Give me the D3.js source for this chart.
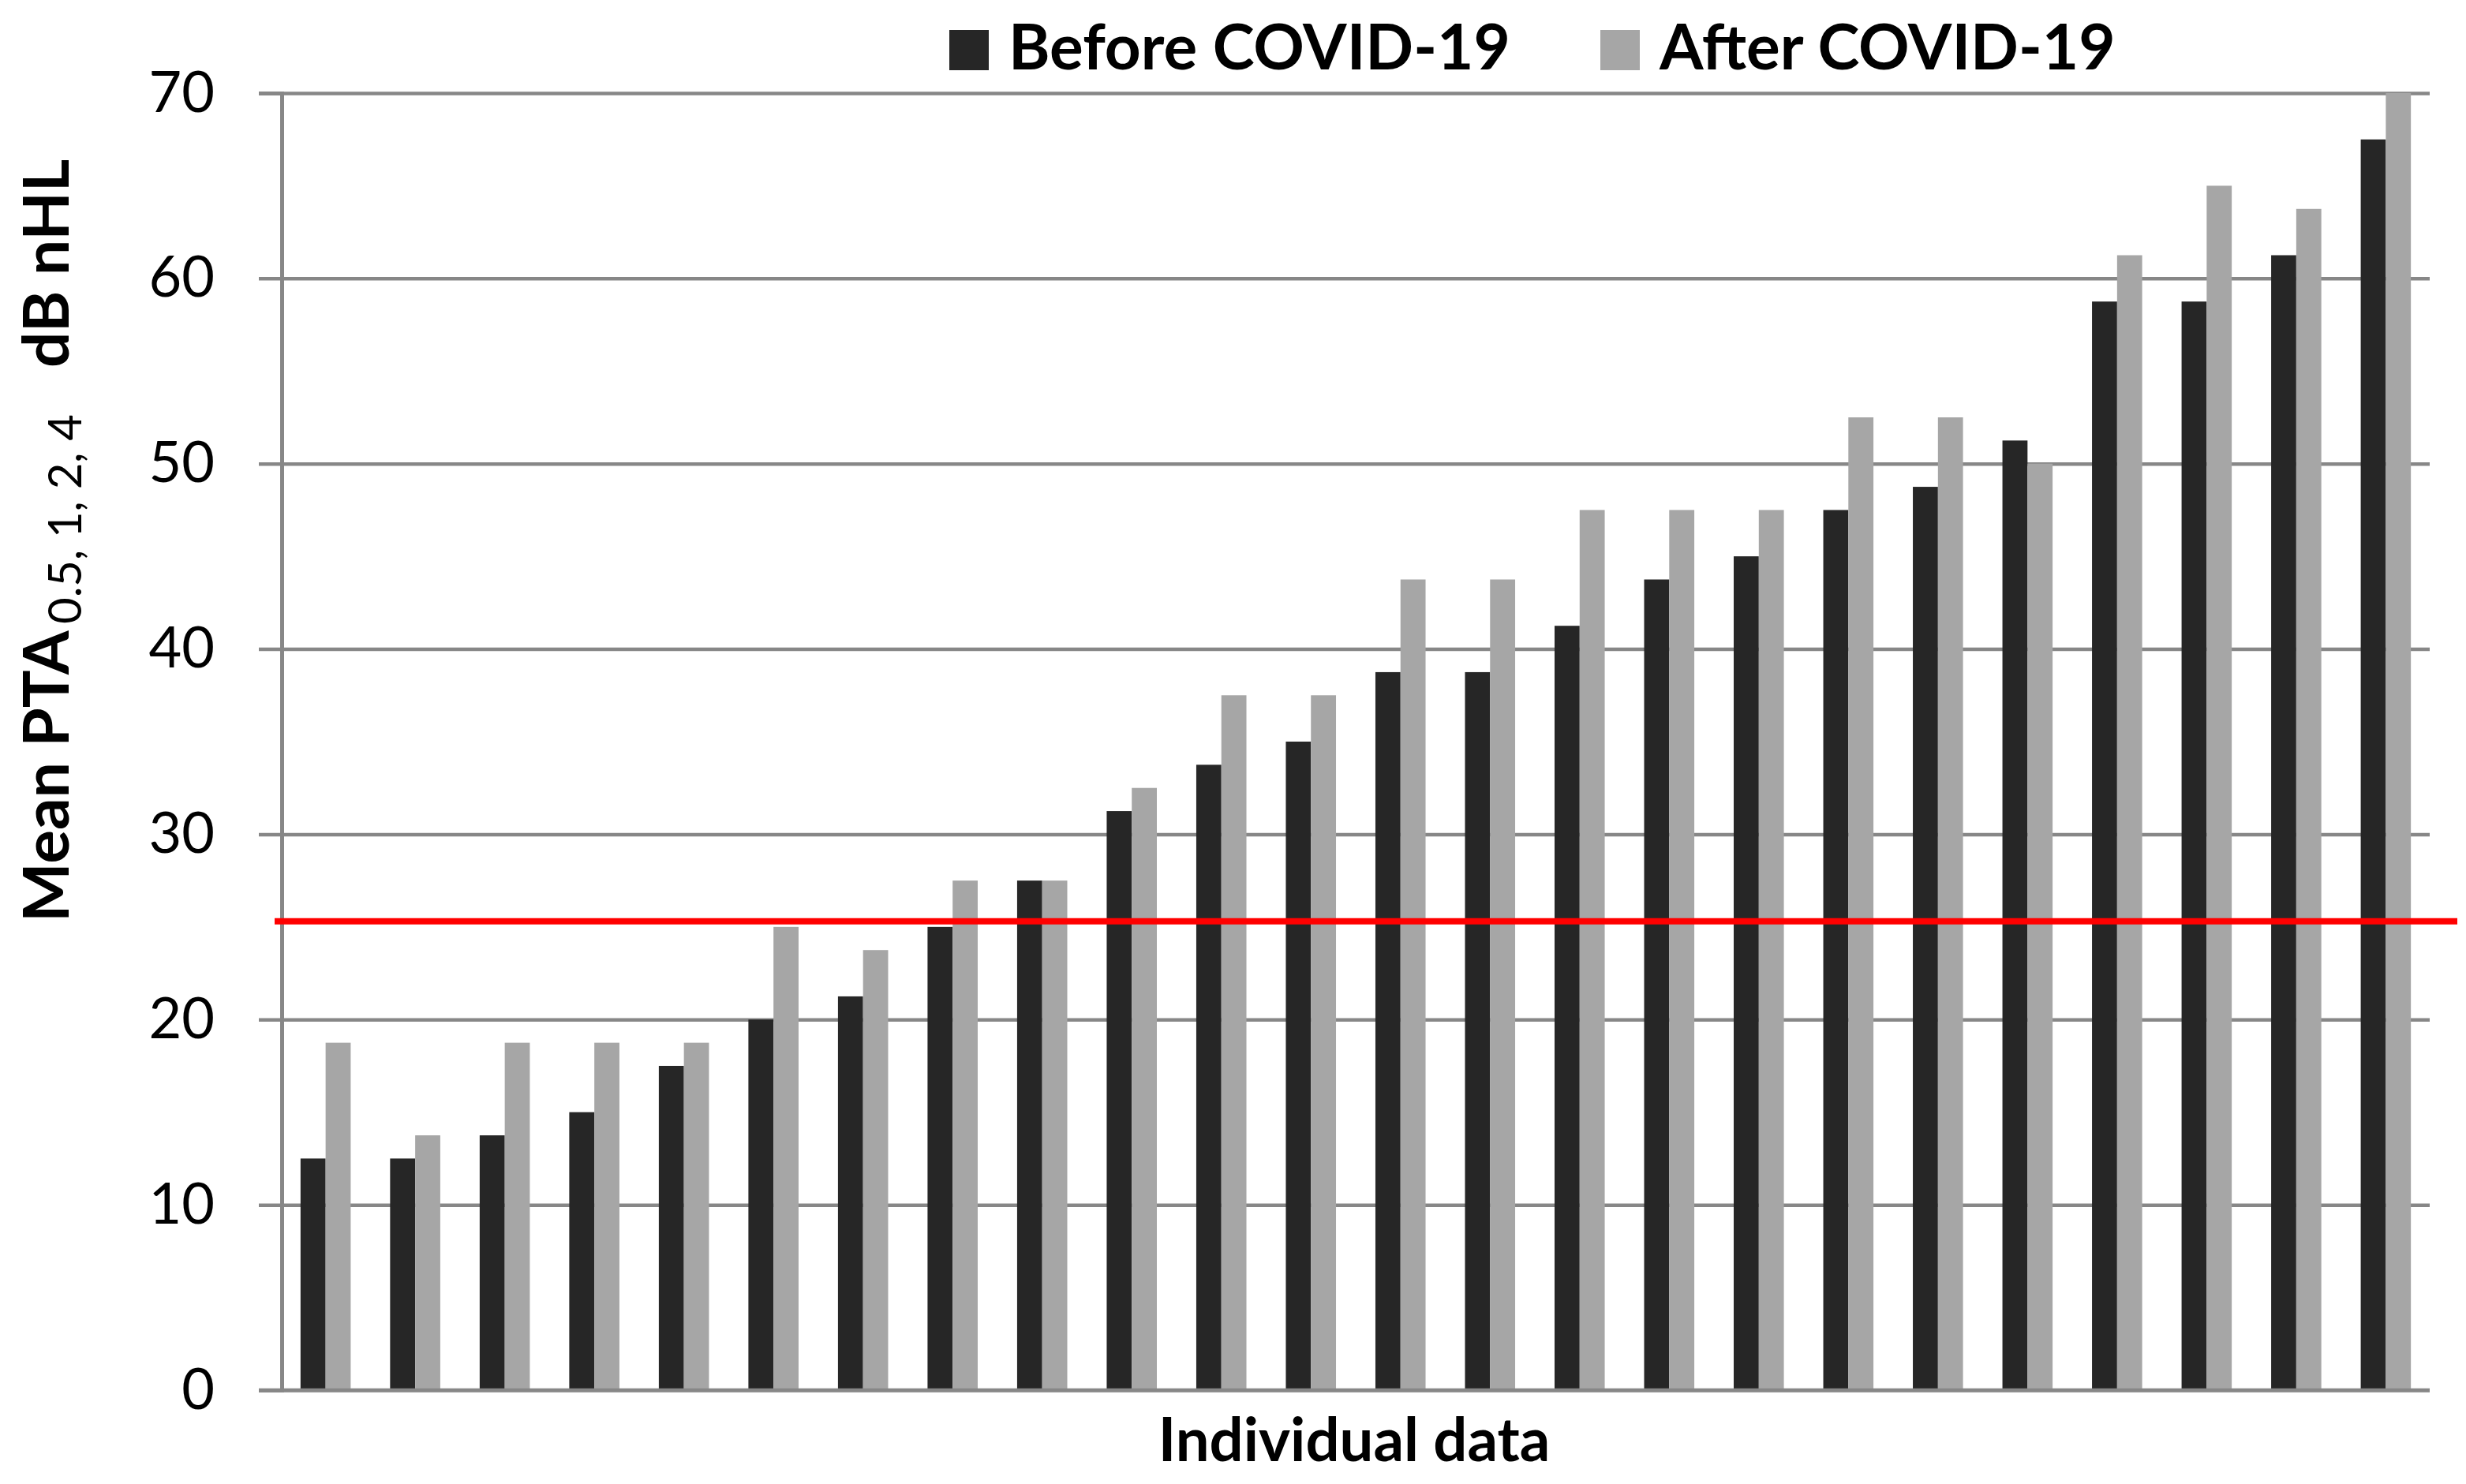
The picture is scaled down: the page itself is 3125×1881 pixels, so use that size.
<!DOCTYPE html>
<html>
<head>
<meta charset="utf-8">
<script src="https://cdn.jsdelivr.net/npm/d3@7"></script>
<style>
  html, body { margin: 0; padding: 0; background: #ffffff; }
  svg { display: block; }
</style>
</head>
<body>
<script>
// ---- data ----
const participants = d3.range(1, 25).map(String);
const beforeCovid = [12.5, 12.5, 13.75, 15, 17.5, 20, 21.25, 25, 27.5, 31.25, 33.75, 35,
                     38.75, 38.75, 41.25, 43.75, 45, 47.5, 48.75, 51.25, 58.75, 58.75, 61.25, 67.5];
const afterCovid  = [18.75, 13.75, 18.75, 18.75, 18.75, 25, 23.75, 27.5, 27.5, 32.5, 37.5, 37.5,
                     43.75, 43.75, 47.5, 47.5, 47.5, 52.5, 52.5, 50, 61.25, 65, 63.75, 70];
const seriesNames = ["Before COVID-19", "After COVID-19"];
const yTicks = [0, 10, 20, 30, 40, 50, 60, 70];
const threshold = 25.3;

// ---- layout ----
const W = 3125, H = 1881;
const plotL = 357, plotR = 3079, plotT = 118, plotB = 1762;
const colors = { "Before COVID-19": "#262626", "After COVID-19": "#a6a6a6" };
const gridColor = "#878787";

const svg = d3.select("body").append("svg").attr("width", W).attr("height", H);

const x = d3.scaleBand().domain(participants).range([plotL, plotR]).paddingInner(0.44).paddingOuter(0.21);
const xs = d3.scaleBand().domain(seriesNames).range([0, x.bandwidth()]);
const y = d3.scaleLinear().domain([0, 70]).range([plotB, plotT]);

// gridlines (extending left as tick stubs)
const grid = svg.append("g").attr("transform", `translate(${plotR},0)`)
  .call(d3.axisLeft(y).tickValues(yTicks).tickSize(plotR - plotL + 29).tickFormat(""));
grid.select(".domain").remove();
grid.selectAll("line").attr("stroke", gridColor).attr("stroke-width", 4.5);

// bars
const rows = participants.map((p, i) => ({ p, vals: [
  { s: seriesNames[0], v: beforeCovid[i] },
  { s: seriesNames[1], v: afterCovid[i] } ] }));

svg.append("g").selectAll("g").data(rows).join("g")
  .attr("transform", d => `translate(${x(d.p)},0)`)
  .selectAll("rect").data(d => d.vals).join("rect")
  .attr("x", d => xs(d.s))
  .attr("width", xs.bandwidth())
  .attr("y", d => y(d.v))
  .attr("height", d => y(0) - y(d.v))
  .attr("fill", d => colors[d.s]);

// y axis (vertical line + labels)
const yAxis = svg.append("g").attr("transform", `translate(${plotL},0)`)
  .call(d3.axisLeft(y).tickValues(yTicks).tickSize(29).tickPadding(56));
yAxis.select(".domain").attr("stroke", gridColor).attr("stroke-width", 5);
yAxis.selectAll(".tick line").remove();
yAxis.selectAll("text").attr("font-family", "Lato").attr("font-size", 72).attr("fill", "#000");

// baseline at 0 over bars
svg.append("line").attr("x1", plotL - 29).attr("x2", plotR)
  .attr("y1", y(0)).attr("y2", y(0)).attr("stroke", gridColor).attr("stroke-width", 4.5);

// threshold red line
svg.append("line").attr("x1", 348).attr("x2", 3114)
  .attr("y1", y(threshold)).attr("y2", y(threshold))
  .attr("stroke", "#ff0000").attr("stroke-width", 8);

// y-axis title
const yt = svg.append("text")
  .attr("transform", `translate(87,1169) rotate(-90)`)
  .attr("font-family", "Lato").attr("fill", "#000");
yt.append("tspan").attr("x", 0).attr("font-weight", 700).attr("font-size", 80).text("Mean PTA");
yt.append("tspan").attr("x", 378).attr("dy", 16).attr("font-weight", 400).attr("font-size", 58).text("0.5, 1, 2, 4");
yt.append("tspan").attr("x", 703).attr("dy", -16).attr("font-weight", 700).attr("font-size", 80).text("dB nHL");

// x-axis title
svg.append("text").attr("x", 1716).attr("y", 1852).attr("text-anchor", "middle")
  .attr("font-family", "Lato").attr("font-weight", 700).attr("font-size", 76).text("Individual data");

// legend
const legendX = [1203, 2028];
const lg = svg.append("g").selectAll("g").data(seriesNames).join("g")
  .attr("transform", (d, i) => `translate(${legendX[i]},0)`);
lg.append("rect").attr("x", 0).attr("y", 38).attr("width", 50).attr("height", 51)
  .attr("fill", d => colors[d]);
lg.append("text").attr("x", 75).attr("y", 88)
  .attr("font-family", "Lato").attr("font-weight", 700).attr("font-size", 80).text(d => d);
</script>
</body>
</html>
